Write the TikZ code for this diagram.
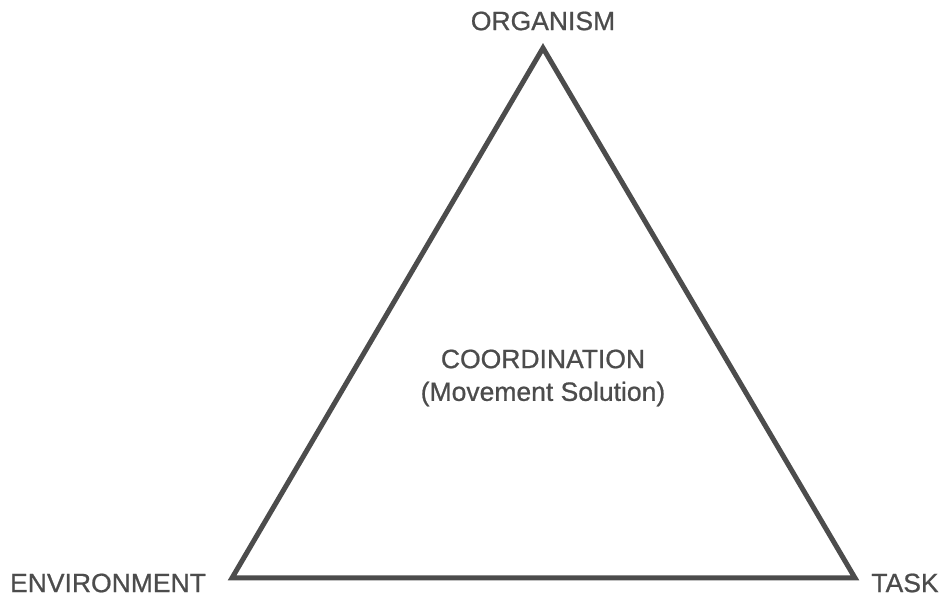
\documentclass[tikz,border=0pt]{standalone}
\usepackage{fontspec}
\setmainfont{Liberation Sans}[UprightFeatures={FakeBold=0.8}]
\usetikzlibrary{positioning}
\definecolor{fg}{rgb}{0.3,0.3,0.3}
\tikzstyle{label}=[inner sep=0pt, anchor=center, text=fg,
font=\fontsize{26.5}{32}\selectfont]
\tikzstyle{edge}=[draw=fg, line width=5pt, line join=miter]

\begin{document}
\begin{tikzpicture}[x=1pt, y=1pt]
    \useasboundingbox (0,0) rectangle (945,597);

    \coordinate (Org) at (543, 549);
    \coordinate (Env) at (232, 19);
    \coordinate (Task) at (855, 19);

    \node[label] (O) at (543, 576) {ORGANISM};
    \node[label] (E) at (108, 14) {ENVIRONMENT};
    \node[label] (T) at (905, 14) {TASK};
    \node[label] (C) at (543, 238) {COORDINATION};
    \node[label] (M) at (543, 203) {(Movement Solution)};

    \draw[edge] (Org) -- (Task) -- (Env) -- cycle ;
\end{tikzpicture}
\end{document}
